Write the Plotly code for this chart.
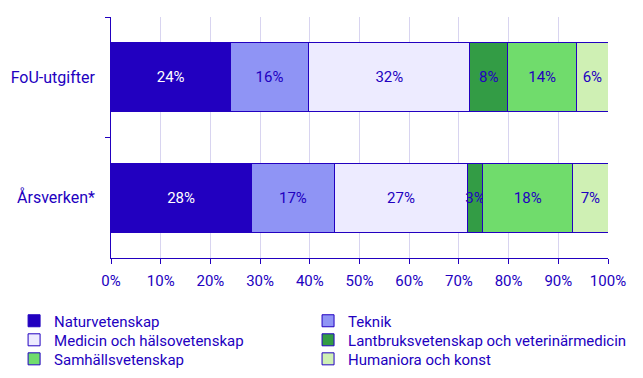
import plotly.graph_objects as go

categories = ["FoU-utgifter", "Årsverken*"]
series_names = ["Naturvetenskap", "Teknik", "Medicin och hälsovetenskap",
                "Lantbruksvetenskap och veterinärmedicin", "Samhällsvetenskap",
                "Humaniora och konst"]
naturvetenskap = [24.0, 28.2]
teknik = [15.8, 16.8]
medicin = [32.4, 26.7]
lantbruk = [7.6, 3.1]
samhalle = [13.9, 18.1]
humaniora = [6.3, 7.1]
x_ticks = [0, 10, 20, 30, 40, 50, 60, 70, 80, 90, 100]

values = [naturvetenskap, teknik, medicin, lantbruk, samhalle, humaniora]
colors = ["#2200C0", "#8F94F5", "#EDEBFF", "#339C45", "#70DC6C", "#CFF0B4"]
text_colors = ["#FFFFFF", "#2200C0", "#2200C0", "#2200C0", "#2200C0", "#2200C0"]
BLUE = "#2200C0"

# legend slot for each series: (column, row)
legend_x = [-0.195, 0.3965]
legend_y = [-0.193, -0.272, -0.351]
slots = [(0, 0), (1, 0), (0, 1), (1, 1), (0, 2), (1, 2)]

fig = go.Figure()
legend_layouts = {}
for i, (name, vals, col, tc) in enumerate(zip(series_names, values, colors, text_colors)):
    key = "legend" if i == 0 else f"legend{i + 1}"
    fig.add_trace(go.Bar(
        y=categories, x=vals, name=name, orientation="h",
        marker=dict(color=col, line=dict(color=BLUE, width=1)),
        text=[f"{v:.0f}%" for v in vals], textposition="inside",
        insidetextanchor="middle", textangle=0,
        textfont=dict(color=tc, size=15, family="Roboto"),
        hoverinfo="skip", legend=key,
    ))
    c, r = slots[i]
    legend_layouts[key] = dict(
        orientation="v", x=legend_x[c], y=legend_y[r],
        xanchor="left", yanchor="top",
        font=dict(size=15, color=BLUE, family="Roboto"),
        bgcolor="rgba(0,0,0,0)",
    )

fig.update_layout(
    template="none",
    barmode="stack", bargap=0.43,
    width=643, height=378,
    margin=dict(l=103, r=43, t=9, b=128, autoexpand=False),
    paper_bgcolor="white", plot_bgcolor="white",
    font=dict(family="Roboto", color=BLUE, size=14),
    uniformtext=dict(minsize=15, mode="show"),
    showlegend=True,
    xaxis=dict(range=[0, 100], tickvals=x_ticks,
               ticktext=[f"{t}%" for t in x_ticks],
               showgrid=True, gridcolor="#D8D4F0", gridwidth=1,
               showline=True, linecolor=BLUE, linewidth=1,
               ticks="outside", ticklen=5, tickcolor=BLUE, automargin=False,
               ticklabelstandoff=4,
               zeroline=False, tickfont=dict(size=15, color=BLUE)),
    yaxis=dict(autorange="reversed", showline=True, linecolor=BLUE, linewidth=1,
               ticks="outside", ticklen=5, tickcolor=BLUE, tickson="boundaries",
               showgrid=False, automargin=False,
               tickfont=dict(size=16, color=BLUE), ticksuffix="   "),
    **legend_layouts,
)

fig.write_html("out.html")
